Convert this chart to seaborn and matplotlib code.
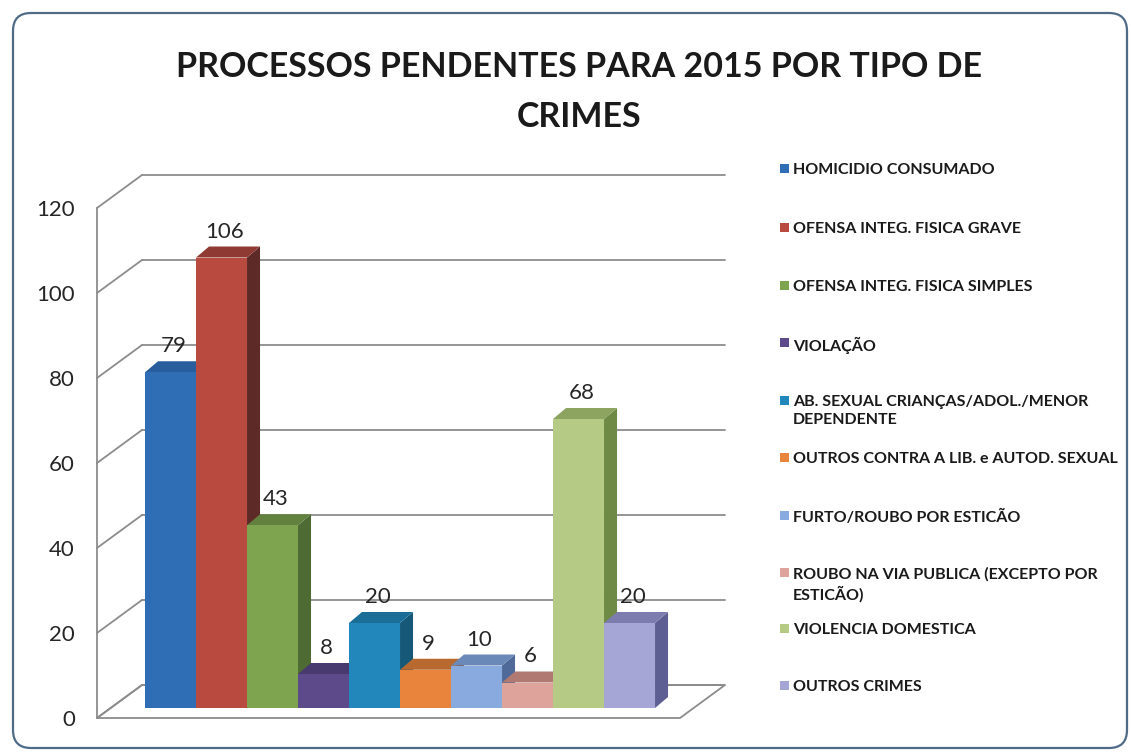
import numpy as np
import pandas as pd
import matplotlib
matplotlib.use("Agg")
import matplotlib.pyplot as plt
import seaborn as sns
from matplotlib.patches import Polygon, Rectangle, FancyBboxPatch
from matplotlib.lines import Line2D
from matplotlib.transforms import ScaledTranslation, IdentityTransform

# ---------------- data ----------------
categories = [
    "HOMICIDIO CONSUMADO",
    "OFENSA INTEG. FISICA GRAVE",
    "OFENSA INTEG. FISICA SIMPLES",
    "VIOLAÇÃO",
    "AB. SEXUAL CRIANÇAS/ADOL./MENOR\nDEPENDENTE",
    "OUTROS CONTRA A LIB. e AUTOD. SEXUAL",
    "FURTO/ROUBO POR ESTICÃO",
    "ROUBO NA VIA PUBLICA (EXCEPTO POR\nESTICÃO)",
    "VIOLENCIA DOMESTICA",
    "OUTROS CRIMES",
]
values = [79, 106, 43, 8, 20, 9, 10, 6, 68, 20]
yticks = [0, 20, 40, 60, 80, 100, 120]
title = "PROCESSOS PENDENTES PARA 2015 POR TIPO DE\nCRIMES"

front_colors = ["#2F6DB5", "#B84A3F", "#7EA450", "#5C4A8A", "#2288BB",
                "#E8843B", "#89AADE", "#DEA49C", "#B5CB85", "#A5A6D6"]
top_colors = ["#285E9E", "#8F3B33", "#62803E", "#483A6E", "#1B6E98",
              "#B8692F", "#6A88B8", "#B07A72", "#8CA460", "#7C7DAE"]
side_colors = ["#1D4778", "#5E2A27", "#4E6B33", "#342A55", "#155877",
               "#8C5024", "#4F6A98", "#8E5F59", "#6E8A45", "#5D5E92"]

# ---------------- style ----------------
sns.set_theme(style="white")
plt.rcParams["font.family"] = ["Lato", "DejaVu Sans"]

W, H = 1131, 753
fig = plt.figure(figsize=(W / 100, H / 100), dpi=100)
fig.patch.set_facecolor("white")
s = fig.dpi / 100.0

# front plane of the 3D box (pixels from top-left)
ax = fig.add_axes([97 / W, (H - 718) / H, 583 / W, 510 / H])
ax.patch.set_alpha(0)

df = pd.DataFrame({"cat": categories, "val": values})
sns.barplot(data=df, x="cat", y="val", hue="cat", order=categories,
            hue_order=categories, palette=front_colors, width=1,
            saturation=1, legend=False, ax=ax, linewidth=0)
bars = sorted(list(ax.patches), key=lambda p: p.get_x())

XL = (-1.167, 10.264)
ax.set_xlim(*XL)
ax.set_ylim(0, 120)
ax.set_xticks([])
ax.set_xlabel("")
ax.set_ylabel("")
ax.set_yticks(yticks)
ax.set_yticklabels([str(t) for t in yticks])
ax.tick_params(axis="y", length=0, pad=16, labelsize=16, labelcolor="#262626")
for sp in ["top", "right", "bottom"]:
    ax.spines[sp].set_visible(False)
ax.spines["left"].set_color("#8c8c8c")
ax.spines["left"].set_linewidth(1.3)

GRID = "#8c8c8c"
WALL = (45, 33)        # back wall offset (px)
BAR_FRONT = (14, 10)   # bar front face offset (px)
BAR_DEPTH = (13, 11)   # bar depth (px)


def off(dx, dy):
    return ax.transData + ScaledTranslation(dx / 100, dy / 100, fig.dpi_scale_trans)


def disp(x, y, dx=0, dy=0):
    p = ax.transData.transform((x, y))
    return (p[0] + dx * s, p[1] + dy * s)


def add_px_patch(patch, z):
    ax.add_patch(patch)
    patch.set_transform(IdentityTransform())
    patch.set_clip_on(False)
    patch.set_zorder(z)


# floor
floor = Polygon([disp(XL[0], 0), disp(XL[1], 0),
                 disp(XL[1], 0, *WALL), disp(XL[0], 0, *WALL)],
                closed=True, facecolor="white", edgecolor=GRID, lw=1.3)
add_px_patch(floor, 0.5)

# back wall gridlines and side wall lines
for v in yticks:
    ax.plot(XL, [v, v], transform=off(*WALL), color=GRID, lw=1.3,
            clip_on=False, zorder=1)
    a = disp(XL[0], v)
    b = disp(XL[0], v, *WALL)
    ln = Line2D([a[0], b[0]], [a[1], b[1]], color=GRID, lw=1.3)
    ax.add_line(ln)
    ln.set_transform(IdentityTransform())
    ln.set_clip_on(False)
    ln.set_zorder(1)

# 3D bars
for i, p in enumerate(bars):
    base = 3 + i * 0.1
    p.set_transform(off(*BAR_FRONT))
    p.set_clip_on(False)
    p.set_zorder(base + 0.05)
    x0, w, h = p.get_x(), p.get_width(), p.get_height()
    x1 = x0 + w
    fx, fy = BAR_FRONT
    bx, by = fx + BAR_DEPTH[0], fy + BAR_DEPTH[1]
    top = Polygon([disp(x0, h, fx, fy), disp(x1, h, fx, fy),
                   disp(x1, h, bx, by), disp(x0, h, bx, by)],
                  closed=True, facecolor=top_colors[i], edgecolor="none")
    side = Polygon([disp(x1, 0, fx, fy), disp(x1, h, fx, fy),
                    disp(x1, h, bx, by), disp(x1, 0, bx, by)],
                   closed=True, facecolor=side_colors[i], edgecolor="none")
    add_px_patch(side, base)
    add_px_patch(top, base)
    ax.annotate(str(values[i]), xy=(x0 + w / 2, h),
                xytext=(17 * 0.72, 36 * 0.72), textcoords="offset points",
                ha="center", va="center", fontsize=16, color="#262626",
                zorder=10, annotation_clip=False)

# title
fig.text(579 / W, 1 - 92 / H, title, ha="center", va="center",
         fontsize=24.5, fontweight="bold", color="#1a1a1a", linespacing=1.7)

# legend (manual layout)
leg_y = [168, 227, 285, 342, 400, 457, 515, 572, 628, 685]
for i, cat in enumerate(categories):
    y = leg_y[i]
    fig.add_artist(Rectangle((780 / W, 1 - (y + 4.5) / H), 9 / W, 9 / H,
                             transform=fig.transFigure,
                             facecolor=front_colors[i], edgecolor="none"))
    fig.text(793 / W, 1 - (y - 5) / H, cat, ha="left", va="top",
             fontsize=11.5, fontweight="bold", color="#1a1a1a",
             linespacing=1.35)

# rounded chart border
border = FancyBboxPatch((13, 5), 1114, 735,
                        boxstyle="round,pad=0,rounding_size=18",
                        transform=IdentityTransform(), facecolor="none",
                        edgecolor="#4f6b88", lw=1.6)
fig.add_artist(border)

fig.savefig("out.png", dpi=100, facecolor="white")
